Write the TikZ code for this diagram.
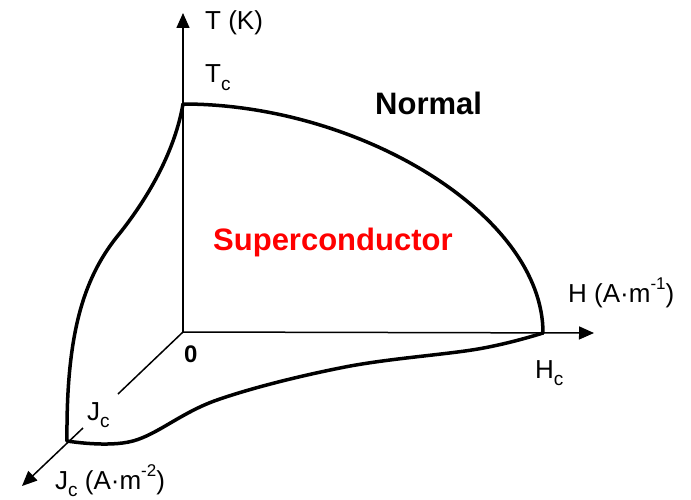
\documentclass[tikz,border=0pt]{standalone}
\usepackage{fontspec}
\setmainfont{Liberation Sans}
\usetikzlibrary{arrows.meta}
\newcommand\mysubc[1]{\raisebox{-0.3em}{\fontsize{19}{19}\selectfont #1}}
\newcommand\mysup[1]{\raisebox{0.5em}{\fontsize{17}{17}\selectfont #1}}
\begin{document}
\begin{tikzpicture}[x=1pt,y=-1pt,
  axis/.style={line width=1.5pt},
  axisarrow/.style={line width=1.5pt,-{Triangle[length=15pt,width=13pt]}},
  curve/.style={line width=3.5pt,line join=round,line cap=round},
  lab/.style={font=\fontsize{26}{30}\selectfont,inner sep=0pt,anchor=base west},
  big/.style={font=\fontsize{31}{36}\selectfont\bfseries,inner sep=0pt,anchor=base west}]
\useasboundingbox[fill=white] (0,0) rectangle (691,500);
\coordinate (O) at (183,332);
\coordinate (Ttip) at (183,13);
\coordinate (Htip) at (594,333);
\coordinate (Jtip) at (22,486);
\coordinate (Jgap1) at (118,394);
\coordinate (Jgap2) at (83,428);
\coordinate (Tc) at (183,104);
\coordinate (Hc) at (543,333);
\coordinate (Jc) at (67,441);
\coordinate (Jinf) at (120,233);
% axes
\draw[axisarrow] (O) -- (Ttip);
\draw[axisarrow] (O) -- (Htip);
\draw[axis] (O) -- (Jgap1);
\draw[axisarrow] (Jgap2) -- (Jtip);
% boundary curves
\draw[curve] (Tc) .. controls (360,104) and (543,215) .. (Hc);
\draw[curve] (Tc) .. controls (175,150) and (150,195) .. (Jinf) .. controls (85,275) and (66,330) .. (Jc);
\draw[curve] plot[smooth,tension=0.6] coordinates {(67,441) (133,441) (217,400) (345,367) (478,349) (543,333)};
% labels
\node[lab] (Tlab) at (205,30) {T (K)};
\node[lab] (Tclab) at (205,83) {T\mysubc{c}};
\node[big] (normal) at (375,115) {Normal};
\node[big,text={rgb,255:red,255;green,0;blue,0}] (sc) at (213,250) {Superconductor};
\node[lab] (Hlab) at (568,302) {H (A·m\mysup{-1})};
\node[lab] (Hclab) at (535,378) {H\mysubc{c}};
\node[lab,font=\fontsize{24}{28}\selectfont\bfseries] (zero) at (184,362) {0};
\node[lab] (Jclab) at (87,420) {J\mysubc{c}};
\node[lab] (Jlab) at (55,489) {J\mysubc{c} (A·m\mysup{-2})};
\end{tikzpicture}
\end{document}
